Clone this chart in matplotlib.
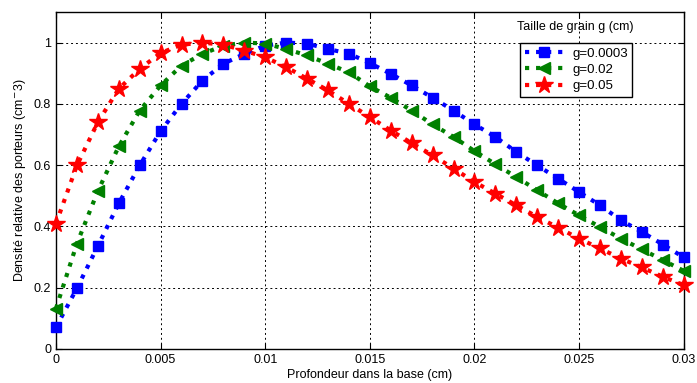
import numpy as np
import matplotlib
matplotlib.use("Agg")
import matplotlib.pyplot as plt

plt.rcParams["font.family"] = ["Liberation Sans", "DejaVu Sans"]

# profondeur (cm), pas de 0.001
depth = np.arange(31) * 0.001

g_0003 = [0.071, 0.198, 0.336, 0.475, 0.599, 0.711, 0.800, 0.876, 0.931, 0.963,
          0.990, 1.000, 0.997, 0.979, 0.964, 0.933, 0.898, 0.860, 0.820, 0.778,
          0.733, 0.692, 0.643, 0.599, 0.556, 0.512, 0.469, 0.420, 0.382, 0.341,
          0.299]
g_002 = [0.132, 0.344, 0.515, 0.661, 0.778, 0.860, 0.925, 0.963, 0.990, 1.000,
         0.997, 0.979, 0.958, 0.931, 0.903, 0.857, 0.820, 0.778, 0.733, 0.692,
         0.646, 0.603, 0.561, 0.518, 0.475, 0.436, 0.398, 0.360, 0.325, 0.290,
         0.255]
g_005 = [0.409, 0.599, 0.740, 0.849, 0.914, 0.966, 0.993, 1.000, 0.993, 0.974,
         0.952, 0.920, 0.882, 0.844, 0.800, 0.757, 0.713, 0.672, 0.632, 0.589,
         0.545, 0.507, 0.469, 0.431, 0.396, 0.360, 0.328, 0.295, 0.266, 0.236,
         0.208]

labels = ["g=0.0003", "g=0.02", "g=0.05"]

fig = plt.figure(figsize=(6.97, 3.83), dpi=100)
ax = fig.add_axes([0.0803, 0.0888, 0.9007, 0.88])

ax.plot(depth, g_0003, ":", color="#0000ff", lw=3, marker="s", ms=6.5,
        mfc="#0000ff", mec="#0000ff", label=labels[0], clip_on=False, zorder=3)
ax.plot(depth, g_002, ":", color="#008000", lw=3, marker="<", ms=9,
        mfc="#008000", mec="#008000", label=labels[1], clip_on=False, zorder=3)
ax.plot(depth, g_005, ":", color="#ff0000", lw=3, marker="*", ms=13,
        mfc="#ff0000", mec="#ff0000", label=labels[2], clip_on=False, zorder=3)

ax.set_xlim(0, 0.03)
ax.set_ylim(0, 1.1)
ax.set_xticks([0, 0.005, 0.01, 0.015, 0.02, 0.025, 0.03])
ax.set_xticklabels(["0", "0.005", "0.01", "0.015", "0.02", "0.025", "0.03"])
ax.set_yticks([0, 0.2, 0.4, 0.6, 0.8, 1])
ax.set_yticklabels(["0", "0.2", "0.4", "0.6", "0.8", "1"])
ax.tick_params(direction="in", top=True, right=True, labelsize=9, length=4)
ax.grid(True, color="black", linestyle=(0, (2, 3)), linewidth=0.7)
for s in ax.spines.values():
    s.set_linewidth(1.0)

ax.set_xlabel("Profondeur dans la base (cm)", fontsize=9, labelpad=2)
ax.set_ylabel("Densité relative des porteurs (cm$^{-}$3)", fontsize=9, labelpad=4)

ax.text(0.827, 0.955, "Taille de grain g (cm)", transform=ax.transAxes,
        ha="center", va="center", fontsize=9)

leg = ax.legend(loc="upper left", bbox_to_anchor=(0.739, 0.908), fontsize=9.5,
                fancybox=False, edgecolor="black", framealpha=1,
                handlelength=3.0, borderpad=0.35, labelspacing=0.3,
                handletextpad=0.6, borderaxespad=0)
leg.get_frame().set_linewidth(1.0)

fig.savefig("out.png", dpi=100)
